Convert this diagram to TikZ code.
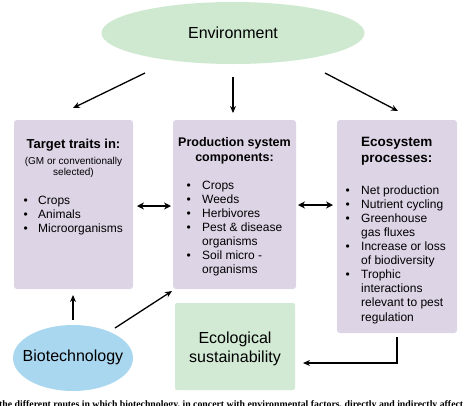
\documentclass[tikz,border=0pt]{standalone}
\usepackage{fontspec}
\setmainfont{Liberation Sans}
\newfontfamily\capfont{Liberation Serif}
\usetikzlibrary{arrows.meta,positioning,shapes.geometric}
\definecolor{lav}{RGB}{221,212,230}
\definecolor{envgreen}{RGB}{207,233,209}
\definecolor{boxgreen}{RGB}{210,234,211}
\definecolor{bioblue}{RGB}{170,215,240}
\tikzset{
  panel/.style={fill=lav,rounded corners=3pt,inner sep=0pt},
  arr/.style={line width=1.3pt,-{Stealth[length=7pt,width=6pt]}},
  dbl/.style={line width=2pt,{Stealth[length=7pt,width=7pt]}-{Stealth[length=7pt,width=7pt]}},
  hdr/.style={font=\bfseries\fontsize{13}{15}\selectfont,anchor=base,inner sep=0pt},
  sub/.style={font=\fontsize{10}{12}\selectfont,anchor=base,inner sep=0pt},
  itm/.style={font=\fontsize{12}{14}\selectfont,anchor=base west,inner sep=0pt},
  big/.style={font=\fontsize{16}{19}\selectfont,anchor=base,inner sep=0pt},
}
\begin{document}
\begin{tikzpicture}[x=1pt,y=-1pt]
\clip (0,0) rectangle (474,405);
\fill[white] (0,0) rectangle (474,405);
% shapes
\node[ellipse,fill=envgreen,minimum width=263pt,minimum height=62pt,inner sep=0pt] (env) at (233,33) {};
\node[big] (envt) at (233,38.5) {Environment};
\node[panel,minimum width=119pt,minimum height=169pt] (left) at (73.5,204.5) {};
\node[panel,minimum width=123pt,minimum height=169pt] (mid) at (234.5,204.5) {};
\node[panel,minimum width=120pt,minimum height=213pt] (right) at (397,226.5) {};
\node[fill=boxgreen,rounded corners=2pt,minimum width=120pt,minimum height=87pt,inner sep=0pt] (eco) at (235,346.5) {};
\node[ellipse,fill=bioblue,minimum width=120pt,minimum height=66pt,inner sep=0pt] (bio) at (73,358) {};
% left box text
\node[hdr] (lh) at (73.5,148) {Target traits in:};
\node[sub] (ls1) at (73.5,164) {(GM or conventionally};
\node[sub] (ls2) at (73.5,175.5) {selected)};
\foreach \t [count=\i] in {Crops,Animals,Microorganisms}{
  \node[itm] (lb\i) at (23.5,190+14*\i) {\textbullet};
  \node[itm] (li\i) at (38,190+14*\i) {\t};
}
% middle box text
\node[hdr,font=\bfseries\fontsize{12.5}{15}\selectfont] (mh1) at (234.5,146.5) {Production system};
\node[hdr,font=\bfseries\fontsize{12.5}{15}\selectfont] (mh2) at (234.5,161.5) {components:};
\foreach \t/\b [count=\i] in {Crops/1,Weeds/1,Herbivores/1,Pest \& disease/1,organisms/0,Soil micro -/1,organisms/0}{
  \ifnum\b=1 \node[itm] (mb\i) at (186.5,175+14*\i) {\textbullet};\fi
  \node[itm] (mi\i) at (202,175+14*\i) {\t};
}
% right box text
\node[hdr,anchor=base west,font=\bfseries\fontsize{13.5}{15}\selectfont] (rh1) at (361,146.5) {Ecosystem};
\node[hdr,anchor=base west,font=\bfseries\fontsize{13.5}{15}\selectfont] (rh2) at (361,162) {processes:};
\foreach \t/\b [count=\i] in {Net production/1,Nutrient cycling/1,Greenhouse/1,gas fluxes/0,Increase or loss/1,of biodiversity/0,Trophic/1,interactions/0,relevant to pest/0,regulation/0}{
  \ifnum\b=1 \node[itm] (rb\i) at (345.5,180+14.1*\i) {\textbullet};\fi
  \node[itm] (ri\i) at (361,180+14.1*\i) {\t};
}
% bottom texts
\node[big] (ecot1) at (235,343.5) {Ecological};
\node[big] (ecot2) at (235,362.5) {sustainability};
\node[big] (biot) at (73,361) {Biotechnology};
% connector end points
\coordinate (e1) at (145,73);
\coordinate (e1t) at (73,108);
\coordinate (e2) at (233,77);
\coordinate (e2t) at (233,113);
\coordinate (e3) at (325,73);
\coordinate (e3t) at (398,111);
\coordinate (b1) at (73,320);
\coordinate (b1t) at (73,295);
\coordinate (b2) at (115,328);
\coordinate (b2t) at (172,291);
\coordinate (r1) at (397,337);
\coordinate (r1t) at (303,363);
\coordinate (d1a) at (137,206);
\coordinate (d1b) at (171,206);
\coordinate (d2a) at (298,205);
\coordinate (d2b) at (333,205);
\draw[arr] (e1) -- (e1t);
\draw[arr] (e2) -- (e2t);
\draw[arr] (e3) -- (e3t);
\draw[arr] (b1) -- (b1t);
\draw[arr] (b2) -- (b2t);
\draw[arr] (r1) |- (r1t);
\draw[dbl] (d1a) -- (d1b);
\draw[dbl] (d2a) -- (d2b);
% cut-off caption (cropped in the reference too)
\node[anchor=base west,inner sep=0pt,font=\capfont\bfseries\fontsize{9.8}{11}\selectfont] (cap) at (-1,407.5) {the different routes in which biotechnology, in concert with environmental factors, directly and indirectly affect};
\end{tikzpicture}
\end{document}
